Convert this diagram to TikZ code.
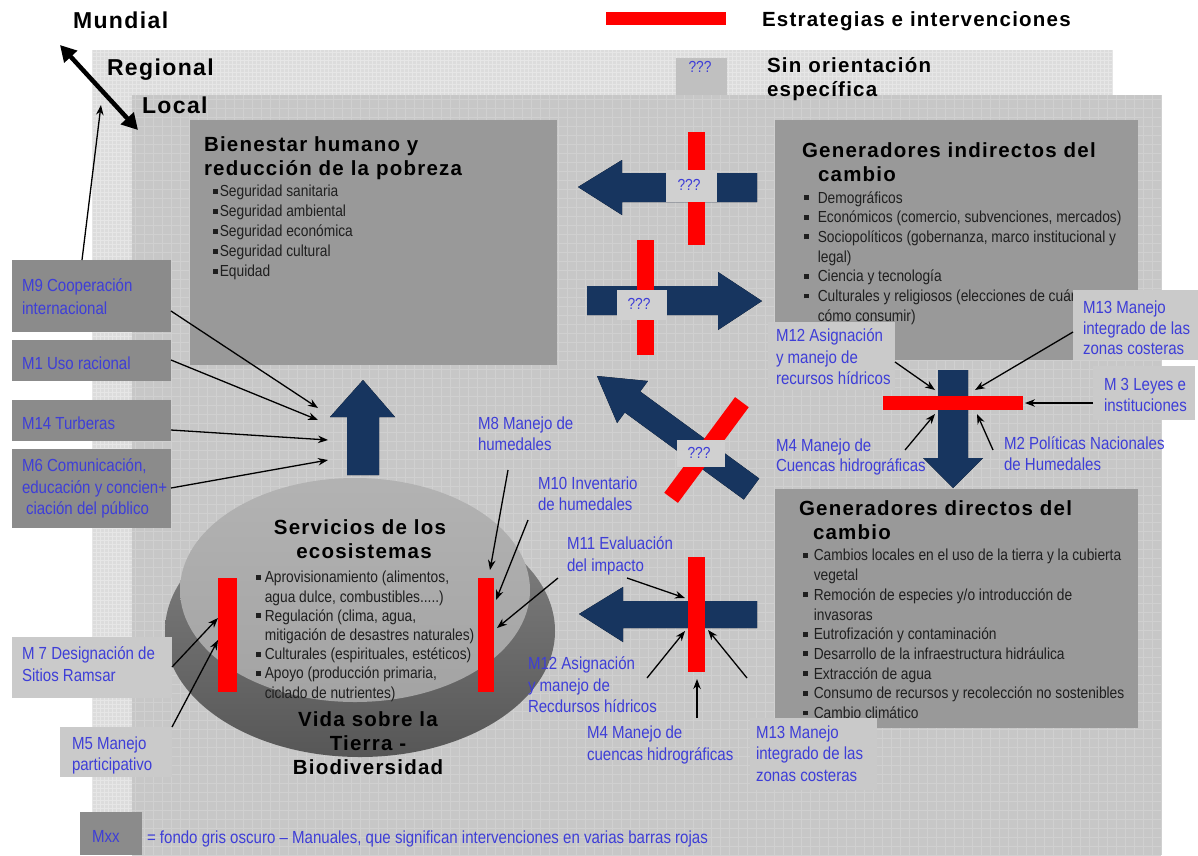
\documentclass[tikz,border=0pt]{standalone}
\usepackage{fontspec}
\setmainfont{Liberation Sans}
\newfontfamily\nar{Liberation Sans}[FakeStretch=0.86]
\newfontfamily\ttl{Liberation Sans}[LetterSpace=6]
\usetikzlibrary{arrows.meta,shapes.geometric}
\newcommand{\sqb}{\rule[0.2em]{0.3em}{0.3em}}
\definecolor{regbg}{HTML}{DCDCDC}
\definecolor{reggrid}{HTML}{E6E6E6}
\definecolor{locbg}{HTML}{C7C7C7}
\definecolor{locgrid}{HTML}{D0D0D0}
\definecolor{boxgrey}{HTML}{999999}
\definecolor{mdark}{HTML}{8B8B8B}
\definecolor{mlight}{HTML}{CACACA}
\definecolor{qbg}{HTML}{D0D0D0}
\definecolor{lblue}{RGB}{62,62,215}
\definecolor{barred}{HTML}{FF0000}
\definecolor{navyA}{HTML}{17355F}
\definecolor{navyB}{HTML}{4A7AB4}
\begin{document}
\begin{tikzpicture}[x=1pt,y=-1pt,
  ttlf/.style={font=\ttl\bfseries\fontsize{20.5}{24}\selectfont, inner sep=0pt, outer sep=0pt, anchor=north west, align=left, text=black},
  lvlf/.style={font=\ttl\bfseries\fontsize{23}{26}\selectfont, inner sep=0pt, outer sep=0pt, anchor=north west, text=black},
  bodyf/.style={font=\nar\fontsize{16}{19.7}\selectfont, inner sep=0pt, outer sep=0pt, anchor=north west, align=left, text=black!88},
  lblf/.style={font=\nar\fontsize{17.5}{21.5}\selectfont, inner sep=0pt, outer sep=0pt, anchor=north west, align=left, text=lblue},
  qtext/.style={font=\nar\fontsize{16}{18}\selectfont, text=lblue, inner sep=0pt},
  qbox/.style={fill=qbg, draw=none, inner sep=0pt, outer sep=0pt, anchor=north west},
  panel/.style={draw=none, inner sep=0pt, outer sep=0pt, anchor=north west},
  redbar/.style={fill=barred, draw=none, inner sep=0pt, outer sep=0pt, anchor=north west},
  conn/.style={line width=1.3pt, draw=black, -{Stealth[length=10pt,width=7.5pt]}},
  navyH/.style={left color=navyA, middle color=navyB, right color=navyA, draw=none},
  navyV/.style={top color=navyA, middle color=navyB, bottom color=navyA, draw=none}
]
\useasboundingbox (0,0) rectangle (1198,855);
\fill[white] (0,0) rectangle (1198,855);
% regional and local panels
\fill[regbg] (92,50) rectangle (1113,855);
\draw[reggrid, line width=0.5pt, step=4pt] (92,855) grid (1113,50);
\fill[locbg] (132,95) rectangle (1161,855);
\draw[locgrid, line width=0.7pt, step=9pt] (132,855) grid (1161,95);

% levels and legend
\node[lvlf] (mundial) at (73,11.7) {Mundial};
\node[lvlf] (regional) at (107,58.7) {Regional};
\node[lvlf] (local) at (142,96.7) {Local};
\coordinate (lvA) at (60,45);
\coordinate (lvB) at (138,130);
\draw[line width=4.5pt, {Triangle[length=16pt,width=17pt]}-{Triangle[length=16pt,width=17pt]}] (lvA) -- (lvB);
\node[redbar, minimum width=120pt, minimum height=13pt] (r0) at (606,12) {};
\node[ttlf] (leg) at (762,11.5) {Estrategias e intervenciones};
\node[qbox, fill=mlight!95!black, minimum width=51pt, minimum height=37pt] (q0box) at (676,58) {};
\node[qtext] (q0) at (700,67) {???};
\node[ttlf] (sinor) at (767,57.5) {Sin orientación\\específica};

% main boxes
\node[panel, fill=boxgrey, minimum width=367pt, minimum height=245pt] (bien) at (190,120) {};
\node[ttlf] (bient) at (204,136.5) {Bienestar humano y\\reducción de la pobreza};
\node[bodyf, font=\nar\fontsize{16}{20}\selectfont] (bienl) at (213,185.3) {\sqb\hspace{2pt}Seguridad sanitaria\\ \sqb\hspace{2pt}Seguridad ambiental\\ \sqb\hspace{2pt}Seguridad económica\\ \sqb\hspace{2pt}Seguridad cultural\\ \sqb\hspace{2pt}Equidad};

\node[panel, fill=boxgrey, minimum width=363pt, minimum height=240pt] (gind) at (775,120) {};
\node[ttlf] (gindt) at (802,142.5) {Generadores indirectos del\\\hspace{16pt}cambio};
\node[bodyf] (gindl) at (804,191.3) {\sqb\hspace{9pt}Demográficos\\ \sqb\hspace{9pt}Económicos (comercio, subvenciones, mercados)\\ \sqb\hspace{9pt}Sociopolíticos (gobernanza, marco institucional y\\ \hspace{13.8pt}legal)\\ \sqb\hspace{9pt}Ciencia y tecnología\\ \sqb\hspace{9pt}Culturales y religiosos (elecciones de cuánto y\\ \hspace{13.8pt}cómo consumir)};

\node[panel, fill=boxgrey, minimum width=363pt, minimum height=239pt] (gdir) at (775,489) {};
\node[ttlf] (gdirt) at (799,500.5) {Generadores directos del\\\hspace{14pt}cambio};
\node[bodyf] (gdirl) at (803,549.3) {\sqb\hspace{6pt}Cambios locales en el uso de la tierra y la cubierta\\ \hspace{10.8pt}vegetal\\ \sqb\hspace{6pt}Remoción de especies y/o introducción de\\ \hspace{10.8pt}invasoras\\ \sqb\hspace{6pt}Eutrofización y contaminación\\ \sqb\hspace{6pt}Desarrollo de la infraestructura hidráulica\\ \sqb\hspace{6pt}Extracción de agua\\ \sqb\hspace{6pt}Consumo de recursos y recolección no sostenibles\\ \sqb\hspace{6pt}Cambio climático};

% ecosystem disc
\node[ellipse, draw=none, inner sep=0pt, minimum width=390pt, minimum height=252pt, top color=black!48, bottom color=black!66] (vida) at (360,631) {};
\node[ellipse, draw=none, inner sep=0pt, minimum width=350pt, minimum height=224pt, top color=black!30, bottom color=black!36] (serv) at (355,590) {};
\node[ttlf, anchor=north, align=center] (servt) at (360,519.5) {Servicios de los\\\hspace{8pt}ecosistemas};
\node[bodyf, font=\nar\fontsize{16}{19.2}\selectfont] (servl) at (256,571.3) {\sqb\hspace{4pt}Aprovisionamiento (alimentos,\\ \hspace{8.8pt}agua dulce, combustibles.....)\\ \sqb\hspace{4pt}Regulación (clima, agua,\\ \hspace{8.8pt}mitigación de desastres naturales)\\ \sqb\hspace{4pt}Culturales (espirituales, estéticos)\\ \sqb\hspace{4pt}Apoyo (producción primaria,\\ \hspace{8.8pt}ciclado de nutrientes)};
\node[ttlf, anchor=north, align=center] (vidat) at (368,711.5) {Vida sobre la\\Tierra -\\Biodiversidad};

% big arrows
\fill[navyH] (578,187) -- (622,160) -- (622,173) -- (757,173) -- (757,202) -- (622,202) -- (622,215) -- cycle;
\fill[navyH] (587,286) -- (718,286) -- (718,272) -- (762,301) -- (718,330) -- (718,315) -- (587,315) -- cycle;
\fill[navyH] (938,370) -- (968,370) -- (968,458) -- (983,458) -- (953,488) -- (923,458) -- (938,458) -- cycle;
\fill[navyH] (579,614) -- (623,587) -- (623,601) -- (757,601) -- (757,628) -- (623,628) -- (623,642) -- cycle;
\fill[navyV] (363,380) -- (395,417) -- (379,417) -- (379,475) -- (347,475) -- (347,417) -- (330,417) -- cycle;
\fill[navyH] (597,376) -- (647.9,381) -- (640.2,391.5) -- (759.2,478.5) -- (743.8,499.5) -- (624.8,412.5) -- (617.1,423) -- cycle;

% red bars
\node[redbar, minimum width=17pt, minimum height=113pt] (r1) at (688,132) {};
\node[redbar, minimum width=17pt, minimum height=115pt] (r2) at (637,240) {};
\node[redbar, minimum width=140pt, minimum height=14pt] (r3) at (883,396) {};
\node[redbar, minimum width=17pt, minimum height=115pt] (r4) at (688,557) {};
\node[redbar, minimum width=19pt, minimum height=114pt] (r5) at (218,578) {};
\node[redbar, minimum width=16pt, minimum height=114pt] (r6) at (478,578) {};
\node[redbar, anchor=center, minimum width=17pt, minimum height=119pt, rotate=-36.5] (r7) at (706.5,450) {};

% ??? boxes
\node[qbox, minimum width=51pt, minimum height=32pt] (q1box) at (666,170) {};
\node[qtext] (q1) at (689,185) {???};
\node[qbox, minimum width=50pt, minimum height=30pt] (q2box) at (617,290) {};
\node[qtext] (q2) at (639,304) {???};
\node[qbox, minimum width=48pt, minimum height=27pt] (q3box) at (677,440) {};
\node[qtext] (q3) at (699,453) {???};

% left dark M boxes
\node[panel, fill=mdark, minimum width=159pt, minimum height=72pt] (m9box) at (12,260) {};
\node[lblf, font=\nar\fontsize{17.5}{23}\selectfont] (m9) at (22,278.7) {M9 Cooperación\\internacional};
\node[panel, fill=mdark, minimum width=159pt, minimum height=41pt] (m1box) at (12,340) {};
\node[lblf] (m1) at (22,356.7) {M1 Uso racional};
\node[panel, fill=mdark, minimum width=159pt, minimum height=41pt] (m14box) at (12,400) {};
\node[lblf] (m14) at (22,416.7) {M14 Turberas};
\node[panel, fill=mdark, minimum width=159pt, minimum height=79pt] (m6box) at (12,449) {};
\node[lblf] (m6) at (22,458.7) {M6 Comunicación,\\educación y concien+\\\hspace{4pt}ciación del público};
\node[panel, fill=mdark, minimum width=62pt, minimum height=43pt] (mxxbox) at (80,812) {};
\node[lblf] (mxx) at (92,830.7) {Mxx};
\node[lblf] (mxxdesc) at (147,830.7) {= fondo gris oscuro – Manuales, que significan intervenciones en varias barras rojas};

% light label boxes
\node[panel, fill=mlight, minimum width=160pt, minimum height=61pt] (m7box) at (12,637) {};
\node[lblf] (m7) at (22,646.7) {M 7 Designación de\\Sitios Ramsar};
\node[panel, fill=mlight, minimum width=112pt, minimum height=50pt] (m5box) at (60,727) {};
\node[lblf] (m5) at (72,736.7) {M5 Manejo\\participativo};
\node[panel, fill=mlight, minimum width=127pt, minimum height=68pt] (m12ubox) at (768,322) {};
\node[lblf] (m12u) at (776,328.7) {M12 Asignación\\y manejo de\\recursos hídricos};
\node[panel, fill=mlight, minimum width=125pt, minimum height=70pt] (m13ubox) at (1073,290) {};
\node[lblf, font=\nar\fontsize{17.5}{20.8}\selectfont] (m13u) at (1083,300.7) {M13 Manejo\\integrado de las\\zonas costeras};
\node[panel, fill=mlight, minimum width=102pt, minimum height=54pt] (m3box) at (1093,366) {};
\node[lblf, font=\nar\fontsize{17.5}{20.5}\selectfont] (m3) at (1104,378.7) {M 3 Leyes e\\instituciones};
\node[panel, fill=locbg!97!white, minimum width=127pt, minimum height=72pt] (m13lbox) at (750,718) {};
\node[lblf] (m13l) at (756,725.7) {M13 Manejo\\integrado de las\\zonas costeras};

% free labels
\node[lblf, font=\nar\fontsize{17.5}{20.5}\selectfont] (m4u) at (776,438.7) {M4 Manejo de\\Cuencas hidrográficas};
\node[lblf, font=\nar\fontsize{17.5}{21}\selectfont] (m2) at (1004,436.7) {M2 Políticas Nacionales\\de Humedales};
\node[lblf] (m8) at (478,416.7) {M8 Manejo de\\humedales};
\node[lblf] (m10) at (538,476.7) {M10 Inventario\\de humedales};
\node[lblf] (m11) at (567,536.7) {M11 Evaluación\\del impacto};
\node[lblf] (m12l) at (528,656.7) {M12 Asignación\\y manejo de\\Recdursos hídricos};
\node[lblf, font=\nar\fontsize{17.5}{22.5}\selectfont] (m4l) at (587,725.7) {M4 Manejo de\\cuencas hidrográficas};

% connector end points
\coordinate (m9top) at (82,260);   \coordinate (regpt) at (101,105);
\coordinate (m9s) at (171,311);    \coordinate (m9e) at (318,408);
\coordinate (m1s) at (171,360);    \coordinate (m1e) at (318,420);
\coordinate (m14s) at (171,430);   \coordinate (m14e) at (328,440);
\coordinate (m6s) at (171,488);    \coordinate (m6e) at (328,460);
\coordinate (m8s) at (508,470);    \coordinate (m8e) at (490,570);
\coordinate (m10s) at (528,520);   \coordinate (m10e) at (496,600);
\coordinate (m11as) at (558,578);  \coordinate (m11ae) at (497,628);
\coordinate (m11bs) at (627,578);  \coordinate (m11be) at (685,598);
\coordinate (m12ls) at (647,678);  \coordinate (m12le) at (685,631);
\coordinate (m4ls) at (697,718);   \coordinate (m4le) at (697,679);
\coordinate (m13ls) at (747,678);  \coordinate (m13le) at (708,630);
\coordinate (m7s) at (172,667);    \coordinate (m7e) at (218,618);
\coordinate (m5s) at (172,727);    \coordinate (m5e) at (218,640);
\coordinate (m12us) at (895,362);  \coordinate (m12ue) at (935,390);
\coordinate (m13us) at (1073,332); \coordinate (m13ue) at (975,390);
\coordinate (m3s) at (1093,403);   \coordinate (m3e) at (1025,403);
\coordinate (m4us) at (905,450);   \coordinate (m4ue) at (935,414);
\coordinate (m2s) at (993,450);    \coordinate (m2e) at (977,414);

\draw[conn] (m9top) -- (regpt);
\draw[conn] (m9s) -- (m9e);
\draw[conn] (m1s) -- (m1e);
\draw[conn] (m14s) -- (m14e);
\draw[conn] (m6s) -- (m6e);
\draw[conn] (m8s) -- (m8e);
\draw[conn] (m10s) -- (m10e);
\draw[conn] (m11as) -- (m11ae);
\draw[conn] (m11bs) -- (m11be);
\draw[conn] (m12ls) -- (m12le);
\draw[conn] (m4ls) -- (m4le);
\draw[conn] (m13ls) -- (m13le);
\draw[conn] (m7s) -- (m7e);
\draw[conn] (m5s) -- (m5e);
\draw[conn] (m12us) -- (m12ue);
\draw[conn] (m13us) -- (m13ue);
\draw[conn] (m3s) -- (m3e);
\draw[conn] (m4us) -- (m4ue);
\draw[conn] (m2s) -- (m2e);
\end{tikzpicture}
\end{document}
